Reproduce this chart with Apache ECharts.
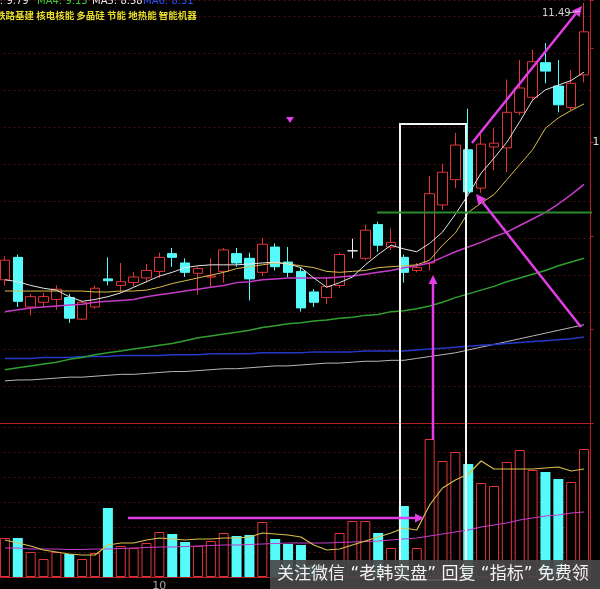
<!DOCTYPE html>
<html><head><meta charset="utf-8">
<script src="https://cdn.jsdelivr.net/npm/echarts@6/dist/echarts.min.js"></script>
<style>html,body{margin:0;padding:0;background:#000;}#c{width:600px;height:589px;}</style>
</head><body><div id="c"></div>
<script>
const categories = ['1','2','3','4','5','6','7','8','9','10','11','12','13','14','15','16','17','18','19','20','21','22','23','24','25','26','27','28','29','30','31','32','33','34','35','36','37','38','39','40','41','42','43','44','45','46'];
const monthTickIndex = 12;
const monthTickLabel = '10';
const priceTickLabel = 10;

const opens  = [8.53,8.77,8.24,8.29,8.32,8.34,8.11,8.24,8.54,8.47,8.50,8.55,8.62,8.81,8.71,8.60,8.56,8.62,8.81,8.76,8.61,8.88,8.72,8.62,8.40,8.34,8.47,8.84,8.76,9.12,8.88,8.77,8.63,8.71,9.33,9.60,9.92,9.51,9.95,9.94,10.32,10.48,10.85,10.60,10.37,10.72];
const closes = [8.74,8.30,8.35,8.35,8.43,8.12,8.29,8.44,8.52,8.51,8.56,8.63,8.77,8.77,8.61,8.65,8.57,8.85,8.71,8.54,8.91,8.67,8.61,8.23,8.29,8.46,8.80,8.84,9.06,8.90,8.93,8.61,8.66,9.45,9.68,9.97,9.47,9.98,9.99,10.32,10.58,10.86,10.76,10.40,10.63,11.18];
const lows   = [8.47,8.24,8.15,8.24,8.21,8.07,8.10,8.22,8.47,8.39,8.46,8.50,8.55,8.67,8.56,8.37,8.45,8.50,8.67,8.31,8.57,8.63,8.56,8.19,8.24,8.27,8.44,8.76,8.74,8.83,8.85,8.50,8.61,8.63,9.28,9.51,9.44,9.46,9.70,9.68,10.29,10.45,10.63,10.32,10.34,10.64];
const highs  = [8.78,8.80,8.38,8.39,8.47,8.38,8.31,8.47,8.77,8.71,8.61,8.70,8.82,8.87,8.76,8.67,8.76,8.87,8.87,8.82,8.98,8.92,8.88,8.66,8.43,8.56,8.82,8.97,9.12,9.15,9.08,8.80,8.71,9.64,9.77,10.10,10.36,10.10,10.15,10.67,10.88,10.99,11.06,10.88,10.77,11.49];

const maWhite   = [8.53,8.51,8.47,8.44,8.42,8.35,8.30,8.32,8.35,8.39,8.45,8.51,8.57,8.61,8.66,8.68,8.69,8.69,8.69,8.70,8.71,8.72,8.70,8.66,8.55,8.45,8.50,8.56,8.69,8.80,8.90,8.86,8.83,8.92,9.04,9.23,9.44,9.67,9.83,10.00,10.22,10.45,10.56,10.61,10.66,10.75];
const maYellow  = [8.41,8.41,8.41,8.41,8.41,8.41,8.41,8.40,8.40,8.41,8.41,8.42,8.45,8.49,8.52,8.55,8.58,8.61,8.65,8.67,8.69,8.71,8.70,8.68,8.66,8.62,8.61,8.62,8.63,8.66,8.67,8.68,8.69,8.74,8.90,9.03,9.25,9.35,9.44,9.60,9.76,9.92,10.15,10.26,10.34,10.41];
const maMagenta = [8.19,8.21,8.23,8.24,8.25,8.26,8.27,8.29,8.30,8.31,8.32,8.35,8.37,8.39,8.41,8.43,8.45,8.47,8.50,8.51,8.53,8.54,8.55,8.55,8.55,8.55,8.56,8.57,8.59,8.61,8.63,8.66,8.68,8.71,8.77,8.83,8.88,8.93,8.99,9.04,9.11,9.18,9.25,9.34,9.44,9.55];
const maGreen   = [7.57,7.59,7.61,7.63,7.65,7.68,7.70,7.73,7.75,7.77,7.79,7.81,7.83,7.85,7.88,7.91,7.93,7.95,7.97,7.99,8.02,8.04,8.06,8.07,8.09,8.10,8.12,8.13,8.15,8.16,8.19,8.20,8.22,8.25,8.29,8.34,8.38,8.42,8.46,8.51,8.55,8.59,8.63,8.68,8.72,8.76];
const maGray    = [7.45,7.46,7.46,7.47,7.48,7.49,7.49,7.50,7.51,7.52,7.52,7.53,7.54,7.55,7.55,7.56,7.57,7.58,7.58,7.59,7.60,7.61,7.61,7.62,7.63,7.64,7.64,7.65,7.66,7.66,7.67,7.67,7.69,7.71,7.73,7.75,7.78,7.81,7.84,7.87,7.90,7.93,7.96,7.99,8.02,8.05];
const maBlue    = [7.69,7.69,7.69,7.70,7.70,7.70,7.71,7.71,7.71,7.72,7.72,7.72,7.72,7.73,7.73,7.73,7.74,7.74,7.74,7.74,7.75,7.75,7.75,7.75,7.76,7.76,7.76,7.76,7.77,7.77,7.77,7.77,7.78,7.79,7.80,7.81,7.82,7.83,7.84,7.85,7.86,7.87,7.88,7.89,7.90,7.92];

const volumes  = [39,39,25,18,25,23,18,24,69,31,29,34,45,43,35,31,36,44,41,42,55,38,33,32,12,10,44,56,56,44,29,71,29,138,116,125,113,94,91,115,127,107,105,98,95,128];
const volMaA   = [37,34,31,27,25,23,22,22,32,34,34,37,39,38,37,38,38,39,39,40,44,43,42,40,32,27,28,32,36,40,44,49,47,72,89,97,103,116,108,108,108,108,109,110,106,108];
const volMaB   = [29,29,28,28,28,27.5,27.5,28,28,28.5,29,29.5,30,30,30.5,31,31.5,32,32,32.5,33,33.5,34,34,34,34,34.5,35,35.5,36,37,38,39,41,43,45,47,50,52,54,57,59,61,62,64,65];

const headerMA = [
  {t:'MA3: 9.79', c:'#e0e0e0', x:-22},
  {t:'MA4: 9.13', c:'#3cc83c', x:37},
  {t:'MA5: 8.58', c:'#e8e8e8', x:92},
  {t:'MA6: 8.31', c:'#3050ff', x:143}
];
const headerTags = '铁路基建 核电核能 多晶硅 节能 地热能 智能机器';
const highLabel = '11.49';
const watermark = '关注微信 “老韩实盘” 回复 “指标” 免费领';

const UP = '#e2353a', DOWN = '#55fbfb', GRIDC = '#4a0f10', AXISC = '#b82025';

const candleData = opens.map((o,i)=>{
  const it = {value:[o, closes[i], lows[i], highs[i]]};
  if (o === closes[i]) it.itemStyle = {color:'#eee', color0:'#eee', borderColor:'#eee', borderColor0:'#eee', borderColorDoji:'#eee'};
  return it;
});
const volData = volumes.map((v,i)=> closes[i] >= opens[i]
  ? {value:v, itemStyle:{color:'#000', borderColor:UP, borderWidth:1}}
  : {value:v, itemStyle:{color:DOWN}});

function lineS(data, color, xi, yi, w){
  return {type:'line', data, xAxisIndex:xi, yAxisIndex:yi, symbol:'none', smooth:false, z:4,
    lineStyle:{color, width:w||1}, emphasis:{disabled:true}, silent:true};
}

function arrow(x1,y1,x2,y2,color,w,size){
  const a = Math.atan2(y2-y1, x2-x1);
  const bx = x2 - size*Math.cos(a), by = y2 - size*Math.sin(a);
  const px = Math.sin(a)*size*0.5, py = -Math.cos(a)*size*0.5;
  return [
    {type:'line', shape:{x1,y1,x2:bx,y2:by}, style:{stroke:color, lineWidth:w}, z:20},
    {type:'polygon', shape:{points:[[x2,y2],[bx+px,by+py],[bx-px,by-py]]}, style:{fill:color}, z:20}
  ];
}

const MAG = '#e23de6';
const graphics = [
  {type:'rect', shape:{x:400, y:124, width:66, height:456}, style:{stroke:'#f4f4f4', lineWidth:2, fill:null}, z:15},
  {type:'line', shape:{x1:377, y1:212.5, x2:592, y2:212.5}, style:{stroke:'#2d8a2d', lineWidth:2}, z:15},
  ...arrow(472,143,582,6,MAG,2.5,10),
  ...arrow(581,327,476,194,MAG,2.5,10),
  ...arrow(433,440,433,275,MAG,2.5,9),
  ...arrow(128,518,424,518,MAG,2.5,9),
  {type:'polygon', shape:{points:[[286,117],[294,117],[290,123]]}, style:{fill:MAG}, z:20},
  {type:'text', x:542, y:8, style:{text:highLabel, fill:'#cfcfcf', font:'10px "DejaVu Sans"'}, z:20},
  {type:'line', shape:{x1:568, y1:13, x2:580, y2:11}, style:{stroke:'#cfcfcf', lineWidth:1}, z:20},
  ...headerMA.map(h=>({type:'text', x:h.x, y:-4, style:{text:h.t, fill:h.c, font:'10px "DejaVu Sans"'}, z:20})),
  {type:'text', x:-4, y:11, style:{text:headerTags, fill:'#e6dc2a', font:'bold 9.5px "Noto Sans CJK SC"'}, z:20},
  {type:'rect', shape:{x:270, y:560, width:330, height:29}, style:{fill:'rgba(72,72,72,0.92)'}, z:30},
  {type:'text', x:277, y:574.5, style:{text:watermark, fill:'#f2f2f2', font:'17px "DejaVu Sans", "Noto Sans CJK SC"', verticalAlign:'middle'}, z:31}
];

const chart = echarts.init(document.getElementById('c'), null, {renderer:'canvas'});
chart.setOption({
  backgroundColor:'#000',
  animation:false,
  grid:[
    {left:-1.5, width:592, top:0, height:423, outerBoundsMode:'none', containLabel:false},
    {left:-1.5, width:592, top:423, height:154, outerBoundsMode:'none', containLabel:false}
  ],
  xAxis:[
    {type:'category', gridIndex:0, data:categories, boundaryGap:true,
     axisLine:{show:true, lineStyle:{color:AXISC, width:1}}, axisTick:{show:false}, axisLabel:{show:false}, splitLine:{show:false}},
    {type:'category', gridIndex:1, data:categories, boundaryGap:true,
     axisLine:{show:true, lineStyle:{color:AXISC, width:1}}, axisTick:{show:false}, splitLine:{show:false},
     axisLabel:{show:true, interval:0, color:'#b0a0a0', fontSize:11, margin:4, fontFamily:'DejaVu Sans',
       formatter:(v,i)=> i===monthTickIndex ? monthTickLabel : ''}}
  ],
  yAxis:[
    {type:'value', gridIndex:0, min:7, max:11.52, interval:1, position:'right',
     axisLine:{show:true, lineStyle:{color:AXISC}}, axisTick:{show:true, length:3, lineStyle:{color:AXISC}},
     axisLabel:{show:true, color:'#dddddd', fontSize:11, margin:2, fontFamily:'DejaVu Sans',
       formatter:v=> Math.abs(v-priceTickLabel)<1e-6 ? String(priceTickLabel) : ''},
     splitLine:{show:false}},
    {type:'value', gridIndex:1, min:0, max:154, position:'right',
     axisLine:{show:true, lineStyle:{color:AXISC}}, axisTick:{show:false}, axisLabel:{show:false}, splitLine:{show:false}},
    {type:'value', gridIndex:0, min:0, max:11.432, interval:1, position:'left',
     axisLine:{show:false}, axisTick:{show:false}, axisLabel:{show:false},
     splitLine:{show:true, lineStyle:{color:GRIDC, type:[2,3], width:1}}},
    {type:'value', gridIndex:1, min:0, max:6.16, interval:1, position:'left',
     axisLine:{show:false}, axisTick:{show:false}, axisLabel:{show:false},
     splitLine:{show:true, lineStyle:{color:GRIDC, type:[2,3], width:1}}}
  ],
  series:[
    lineS(maGray,'#b8b8b8',0,0,1),
    lineS(maBlue,'#2638c8',0,0,1.5),
    lineS(maGreen,'#2fa02f',0,0,1.5),
    {type:'candlestick', xAxisIndex:0, yAxisIndex:0, data:candleData, barWidth:10, z:3, silent:true,
     itemStyle:{color:'#000', color0:DOWN, borderColor:UP, borderColor0:DOWN, borderWidth:1}},
    lineS(maMagenta,'#c63cc8',0,0,1.5),
    lineS(maYellow,'#d9be4c',0,0,1),
    lineS(maWhite,'#e6e6e6',0,0,1),
    {type:'bar', xAxisIndex:1, yAxisIndex:1, data:volData, barWidth:10, z:3, silent:true},
    lineS(volMaB,'#c63cc8',1,1,1.2),
    lineS(volMaA,'#d9be4c',1,1,1.2)
  ],
  graphic:graphics
});
</script>
</body></html>
